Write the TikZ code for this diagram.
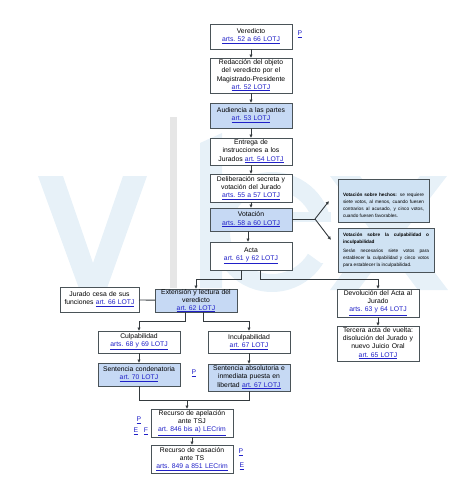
\documentclass[tikz,border=0pt]{standalone}
\usepackage{fontspec}
\setmainfont{Liberation Sans}
\usetikzlibrary{arrows.meta,positioning,calc}
\definecolor{boxfill}{HTML}{C6D9F4}
\definecolor{notefill}{HTML}{CFE2F3}
\definecolor{boxline}{HTML}{4A5358}
\definecolor{linkblue}{HTML}{2020C8}
\definecolor{markblue}{HTML}{E7F1F8}
\definecolor{markgray}{HTML}{E6E6E6}
\newcommand{\lawref}[1]{\textcolor{linkblue}{\underline{#1}}}
\newcommand{\noteline}[2]{\makebox[#1][s]{#2}}
\tikzset{
  flowbox/.style={draw=boxline, line width=1pt, fill=white, minimum width=82pt, text width=80pt,
    align=center, inner sep=0pt, outer sep=0pt, font=\fontsize{6.8}{8.1}\selectfont\frenchspacing},
  fillbox/.style={flowbox, fill=boxfill},
  notebox/.style={draw=boxline, line width=0.9pt, fill=notefill, align=left, inner sep=5pt, outer sep=0pt,
    minimum height=40pt, font=\fontsize{4.7}{7.3}\selectfont},
  lawtag/.style={inner sep=0pt, font=\fontsize{6.8}{8}\selectfont},
  flowline/.style={draw=boxline!70!black, line width=0.9pt},
  flowarrow/.style={flowline, -{Latex[length=3.5pt,width=3.5pt]}}
}
\begin{document}
\begin{tikzpicture}[x=1pt, y=-1pt]
  \useasboundingbox (0,0) rectangle (474,493);
  % watermark
  \fill[markblue] (38,176) -- (63,176) -- (93,263) -- (123,176) -- (147,176) -- (101,305) -- (85,305) -- cycle;
  \fill[markgray] (170,117) rectangle (177,288);
  \fill[markblue] (200,143) -- (222,133) -- (222,288) -- (200,288) -- cycle;
  \fill[markblue, even odd rule] (272,232) circle (60) (272,232) circle (42);
  \fill[white] (295,222) -- (340,222) -- (340,262) -- (321,263) -- (303,250) -- cycle;
  \fill[markblue] (232,212) rectangle (331,222);
  \fill[markblue] (330,176) -- (360,176) -- (388,214) -- (420,176) -- (447,176) -- (404,232) -- (448,290)
    -- (418,290) -- (388,250) -- (358,290) -- (330,290) -- (372,232) -- cycle;

  % main column
  \node[flowbox, minimum height=25pt, anchor=north west] (verdict) at (210,24) {Veredicto\\\lawref{arts. 52 a 66 LOTJ}};
  \node[flowbox, minimum height=35pt, below=9pt of verdict] (drafting) {Redacción del objeto\\del veredicto por el\\Magistrado-Presidente\\\lawref{art. 52 LOTJ}};
  \node[fillbox, minimum height=25pt, below=10pt of drafting] (hearing) {Audiencia a las partes\\\lawref{art. 53 LOTJ}};
  \node[flowbox, minimum height=27pt, below=10pt of hearing] (instructions) {Entrega de\\instrucciones a los\\Jurados \lawref{art. 54 LOTJ}};
  \node[flowbox, minimum height=28pt, below=9pt of instructions] (deliberation) {Deliberación secreta y\\votación del Jurado\\\lawref{arts. 55 a 57 LOTJ}};
  \node[fillbox, minimum height=23pt, below=6pt of deliberation] (voting) {Votación\\\lawref{arts. 58 a 60 LOTJ}};
  \node[flowbox, minimum height=28pt, below=11pt of voting] (record) {Acta\\\lawref{art. 61 y 62 LOTJ}};

  % voting notes
  \node[notebox, anchor=north west] (factsnote) at (338,179)
    {\rule{0pt}{12pt}\noteline{81pt}{\textbf{Votación sobre hechos:} se requiere}\\
     \noteline{81pt}{siete votos, al menos, cuando fuesen}\\
     \noteline{81pt}{contrarios al acusado, y cinco votos,}\\
     cuando fuesen favorables.};
  \node[notebox, anchor=north west] (guiltnote) at (338,228)
    {\noteline{86pt}{\textbf{Votación sobre la culpabilidad o}}\\
     \textbf{inculpabilidad}\\[1pt]
     \noteline{86pt}{Serán necesarios siete votos para}\\
     \noteline{86pt}{establecer la culpabilidad y cinco votos}\\
     para establecer la inculpabilidad.};

  % right column
  \node[flowbox, minimum height=28pt, anchor=north west] (returned) at (337,289) {Devolución del Acta al\\Jurado\\\lawref{arts. 63 y 64 LOTJ}};
  \node[flowbox, minimum height=35pt, below=9pt of returned] (third) {Tercera acta de vuelta:\\disolución del Jurado y\\nuevo Juicio Oral\\\lawref{art. 65 LOTJ}};

  % reading row
  \node[fillbox, minimum height=22pt, anchor=north west] (reading) at (155,289) {Extensión y lectura del\\veredicto\\\lawref{art. 62 LOTJ}};
  \node[flowbox, minimum width=79pt, text width=77pt, minimum height=25pt, anchor=north west] (dismissed) at (60,287) {Jurado cesa de sus\\funciones \lawref{art. 66 LOTJ}};

  % verdict branches
  \node[flowbox, minimum height=22pt, anchor=north west] (guilty) at (98,331) {Culpabilidad\\\lawref{arts. 68 y 69 LOTJ}};
  \node[flowbox, minimum height=22pt, anchor=north west] (notguilty) at (208,331) {Inculpabilidad\\\lawref{art. 67 LOTJ}};
  \node[fillbox, minimum height=23pt, below=10pt of guilty] (sentence) {Sentencia condenatoria\\\lawref{art. 70 LOTJ}};
  \node[fillbox, minimum height=27pt, below=11pt of notguilty] (acquittal) {Sentencia absolutoria e\\inmediata puesta en\\libertad \lawref{art. 67 LOTJ}};

  % appeals
  \node[flowbox, minimum height=28pt, anchor=north west] (appeal) at (151,409) {Recurso de apelación\\ante TSJ\\\lawref{art. 846 bis a) LECrim}};
  \node[flowbox, minimum height=28pt, below=8pt of appeal] (cassation) {Recurso de casación\\ante TS\\\lawref{arts. 849 a 851 LECrim}};

  % side tags
  \node[lawtag] (tagverdict) at (300,34) {\lawref{P}};
  \node[lawtag] (tagsentence) at (194,373) {\lawref{P}};
  \node[lawtag] (tagappealp) at (139,420) {\lawref{P}};
  \node[lawtag] (tagappeale) at (136,431) {\lawref{E}};
  \node[lawtag] (tagappealf) at (146,431) {\lawref{F}};
  \node[lawtag] (tagcassp) at (241,452) {\lawref{P}};
  \node[lawtag] (tagcasse) at (242,466) {\lawref{E}};

  \coordinate (fork) at (315,219);
  \coordinate (forkup) at (329,201);
  \coordinate (forkdown) at (331,240);
  \coordinate (merge) at (187,400);

  \draw[flowarrow] (verdict) -- (drafting);
  \draw[flowarrow] (drafting) -- (hearing);
  \draw[flowarrow] (hearing) -- (instructions);
  \draw[flowarrow] (instructions) -- (deliberation);
  \draw[flowarrow] (deliberation) -- (voting);
  \draw[flowarrow] ([xshift=-3pt]voting.south) -- ([xshift=-3pt]record.north);
  \draw[flowline] (voting.east |- fork) -- (fork);
  \draw[flowarrow] (fork) -- (forkup);
  \draw[flowarrow] (fork) -- (forkdown);
  \draw[flowarrow] ([xshift=-10pt]record.south) |- (reading.north |- 0,279) -- (reading.north);
  \draw[flowarrow] ([xshift=9pt]record.south) |- (returned.north |- 0,279) -- (returned.north);
  \draw[flowline] (dismissed) -- (reading);
  \draw[flowarrow] ([xshift=-11pt]reading.south) |- (guilty.north |- 0,321) -- (guilty.north);
  \draw[flowarrow] ([xshift=7pt]reading.south) |- (notguilty.north |- 0,321) -- (notguilty.north);
  \draw[flowarrow] (guilty) -- (sentence);
  \draw[flowarrow] (notguilty) -- (acquittal);
  \draw[flowline] (sentence.south) |- (merge);
  \draw[flowline] (acquittal.south) |- (merge);
  \draw[flowarrow] (merge) -- (appeal.north -| merge);
  \draw[flowarrow] (appeal) -- (cassation);
  \draw[flowarrow] (returned) -- (third);
\end{tikzpicture}
\end{document}
